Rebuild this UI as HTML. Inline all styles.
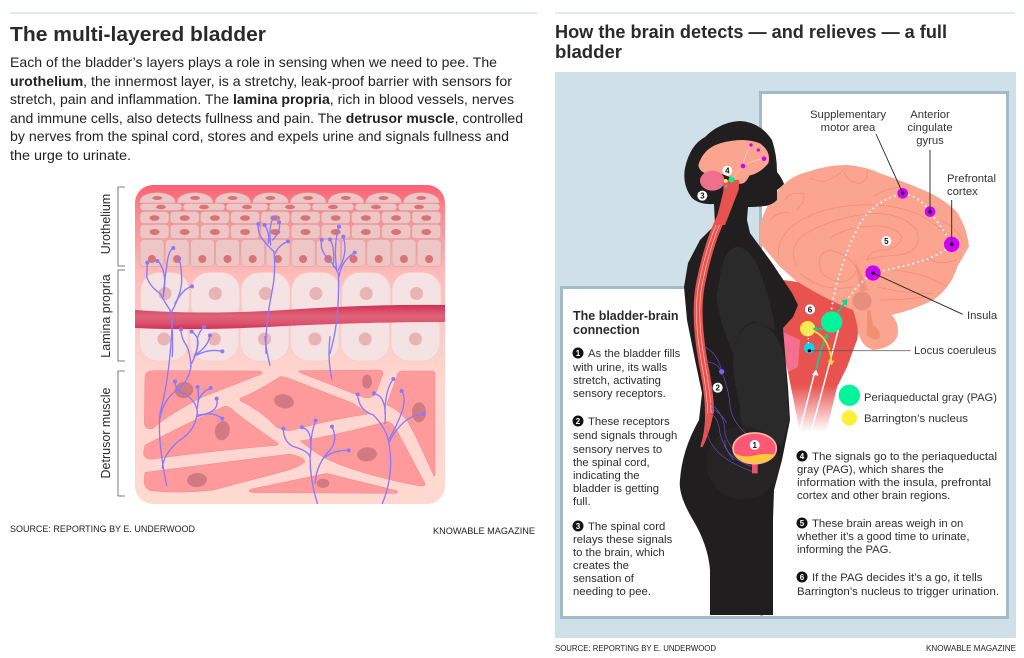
<!DOCTYPE html>
<html><head><meta charset="utf-8"><style>
html,body{margin:0;padding:0;background:#fff}
svg{display:block}
text{font-family:"Liberation Sans",sans-serif;fill:#2a2a2a}
.b{font-size:14px;fill:#222}
.s{font-size:11.3px;fill:#2c2c2c}
.l{font-size:11.3px;fill:#333}
.src{font-size:9px;fill:#222}
.w{font-size:8px;font-weight:bold;text-anchor:middle;fill:#fff}
.k{font-size:8px;font-weight:bold;text-anchor:middle;fill:#111}
.cell{fill:#efc6c6;stroke:#df9c9c;stroke-width:.6}
.nuc{fill:#d87474}
.ner{fill:none;stroke:#8a78ff;stroke-width:4;stroke-linecap:round}
.tip{fill:#8a78ff}
.mus{fill:#ff9a9c;stroke:#ee8a8c;stroke-width:1.5}
.mn{fill:#d27a82}
.sul{fill:none;stroke:#ea8f7b;stroke-width:2.2}
.vn{fill:none;stroke:#6650c0;stroke-width:2}
</style></head><body>
<svg width="1024" height="658" viewBox="0 0 1024 658" xmlns="http://www.w3.org/2000/svg">
<defs>
<linearGradient id="bg" x1="0" y1="185" x2="0" y2="504" gradientUnits="userSpaceOnUse">
<stop offset="0" stop-color="#ff6072"/><stop offset=".09" stop-color="#fb8a90"/><stop offset=".28" stop-color="#ffbcb9"/><stop offset=".6" stop-color="#ffd6cf"/><stop offset="1" stop-color="#ffd8d0"/></linearGradient>
<linearGradient id="ves" x1="0" y1="0" x2="0" y2="1"><stop offset="0" stop-color="#cf2f52"/><stop offset=".45" stop-color="#e0637a"/><stop offset=".75" stop-color="#dc5470"/><stop offset="1" stop-color="#d42c55"/></linearGradient>
<linearGradient id="red" x1="0" y1="385" x2="0" y2="432" gradientUnits="userSpaceOnUse"><stop offset="0" stop-color="#e8524f"/><stop offset="1" stop-color="#e8524f" stop-opacity="0"/></linearGradient>
<pattern id="p1" x="138.5" y="192" width="37.7" height="11" patternUnits="userSpaceOnUse"><path class="cell" d="M1 11Q1 1.5 18.8 .5Q36.5 1.5 37 11Z"/><ellipse class="nuc" cx="18.8" cy="6" rx="5" ry="2"/></pattern>
<pattern id="p2" x="139.5" y="203" width="43" height="8" patternUnits="userSpaceOnUse"><rect class="cell" x=".5" y=".5" width="42" height="7" rx="3.5"/><ellipse class="nuc" cx="21.5" cy="4" rx="5" ry="2.2"/></pattern>
<pattern id="p3" x="139.5" y="211" width="30.2" height="13" patternUnits="userSpaceOnUse"><rect class="cell" x=".5" y=".5" width="29" height="12" rx="3.5"/><ellipse class="nuc" cx="15" cy="7" rx="5" ry="2.8"/></pattern>
<pattern id="p4" x="139.5" y="224" width="30.2" height="15" patternUnits="userSpaceOnUse"><rect class="cell" x=".5" y=".5" width="29" height="14" rx="3.5"/><ellipse class="nuc" cx="15" cy="8" rx="5" ry="3"/></pattern>
<pattern id="p5" x="139.5" y="239" width="25.2" height="28" patternUnits="userSpaceOnUse"><rect class="cell" x=".5" y=".5" width="24" height="27" rx="4"/><circle class="nuc" cx="12.4" cy="20" r="4"/></pattern>
<pattern id="p6" x="140" y="272" width="50.3" height="44" patternUnits="userSpaceOnUse"><rect x=".5" y=".5" width="49" height="50" rx="18" fill="#f5e2e2" stroke="#f6c9c6" stroke-width=".6"/><circle cx="25" cy="21.500" r="6.500" fill="#e8b4b4"/></pattern>
<pattern id="p7" x="139" y="318" width="50.300" height="44" patternUnits="userSpaceOnUse"><rect x=".5" y="-8" width="49" height="51" rx="18" fill="#f5e2e2" stroke="#f6c9c6" stroke-width=".6"/><circle cx="25" cy="21" r="6.500" fill="#e8b4b4"/></pattern>
<clipPath id="pan"><rect x="135" y="185" width="310" height="319" rx="18"/></clipPath>
</defs>

<rect x="10" y="12.500" width="527" height="1" fill="#c6d9df"/>
<rect x="555" y="12.500" width="460" height="1" fill="#c6d9df"/>

<text x="10" y="41" font-size="20" font-weight="bold" fill="#1c1c1c" textLength="256" lengthAdjust="spacingAndGlyphs">The multi-layered bladder</text>
<text class="b" x="10" y="67" textLength="487" lengthAdjust="spacingAndGlyphs">Each of the bladder’s layers plays a role in sensing when we need to pee. The</text>
<text class="b" x="10" y="86" textLength="502" lengthAdjust="spacingAndGlyphs"><tspan font-weight="bold">urothelium</tspan>, the innermost layer, is a stretchy, leak-proof barrier with sensors for</text>
<text class="b" x="10" y="104" textLength="504" lengthAdjust="spacingAndGlyphs">stretch, pain and inflammation. The <tspan font-weight="bold">lamina propria</tspan>, rich in blood vessels, nerves</text>
<text class="b" x="10" y="123" textLength="513" lengthAdjust="spacingAndGlyphs">and immune cells, also detects fullness and pain. The <tspan font-weight="bold">detrusor muscle</tspan>, controlled</text>
<text class="b" x="10" y="141" textLength="499" lengthAdjust="spacingAndGlyphs">by nerves from the spinal cord, stores and expels urine and signals fullness and</text>
<text class="b" x="10" y="160" textLength="121" lengthAdjust="spacingAndGlyphs">the urge to urinate.</text>

<g fill="none" stroke="#555" stroke-width=".8">
<path d="M125 187H118V266H125"/><path d="M125 270H118V361H125"/><path d="M125 371H118V496H125"/>
</g>
<g fill="#333" text-anchor="middle">
<text transform="translate(110,224) rotate(-90)" style="font-size:12.500px">Urothelium</text>
<text transform="translate(110,316) rotate(-90)" style="font-size:12.500px">Lamina propria</text>
<text transform="translate(110,433) rotate(-90)" style="font-size:12.500px">Detrusor muscle</text>
</g>

<g clip-path="url(#pan)">
<rect x="135" y="185" width="310" height="319" fill="url(#bg)"/>
<rect x="138.500" y="192" width="302" height="11" fill="url(#p1)"/>
<rect x="139.500" y="203" width="301" height="8" fill="url(#p2)"/>
<rect x="139.500" y="211" width="302" height="13" fill="url(#p3)"/>
<rect x="139.500" y="224" width="302" height="15" fill="url(#p4)"/>
<rect x="139.500" y="239" width="302" height="28" fill="url(#p5)"/>
<rect x="140" y="272" width="301" height="44" fill="url(#p6)"/>
<rect x="139" y="318" width="302" height="44" fill="url(#p7)"/>
<path d="M135 310Q200 315 285 310Q370 304 445 305V322Q370 322 285 326Q200 331 135 328Z" fill="url(#ves)"/>
<g transform="translate(120,340) scale(.33333)">
<path class="mus" d="M75 110Q76 92 100 92L420 93Q435 97 420 104L250 170Q150 220 100 265Q75 272 73 250Z"/>
<path class="mus" d="M360 175Q420 150 480 110Q490 108 520 120L700 190Q730 210 745 222Q650 235 510 272Q490 272 470 262Q420 210 360 182Z"/>
<path class="mus" d="M540 92L780 90Q792 92 788 105L765 165Q745 180 720 168L545 100Q530 92 540 92Z"/>
<path class="mus" d="M835 97Q840 93 850 93L940 93Q946 95 945 105L945 405Q942 415 938 400Q880 270 860 240Q830 205 800 195Z"/>
<path class="mus" d="M75 315Q200 250 315 198Q330 198 350 220Q410 265 475 310Q475 318 460 317Q300 330 90 358Q65 355 72 330Z"/>
<path class="mus" d="M540 303Q650 285 800 245Q815 245 830 270L915 430Q918 440 900 438Q750 410 650 370Q600 350 570 325Z"/>
<path class="mus" d="M75 397L510 342Q550 350 555 365Q540 380 500 392L280 450Q180 462 90 452Q72 445 72 420Z"/>
<path class="mus" d="M390 448L620 400L830 452Q838 460 825 460L400 458Q380 455 390 448Z"/>
<ellipse class="mn" cx="192" cy="150" rx="28" ry="24" transform="rotate(-15 192 150)"/>
<ellipse class="mn" cx="307" cy="272" rx="22" ry="29" transform="rotate(12 307 272)"/>
<ellipse class="mn" cx="492" cy="184" rx="30" ry="21" transform="rotate(12 492 184)"/>
<ellipse class="mn" cx="741" cy="125" rx="15" ry="21"/>
<ellipse class="mn" cx="897" cy="217" rx="21" ry="30"/>
<ellipse class="mn" cx="741" cy="343" rx="30" ry="21" transform="rotate(-5 741 343)"/>
<ellipse class="mn" cx="231" cy="420" rx="30" ry="21" transform="rotate(-5 231 420)"/>
<ellipse class="mn" cx="609" cy="430" rx="19" ry="14"/>
<path class="ner" d="M157 -60Q150 110 120 220Q112 300 140 436"/>
<path class="ner" d="M213 70Q212 120 170 150Q130 180 120 235"/>
<path class="ner" d="M213 80Q210 30 195 10Q183 -10 183 -32"/>
<path class="ner" d="M215 70Q240 20 232 -5Q225 -20 215 -25"/>
<path class="ner" d="M222 50Q235 30 232 -5Q240 -30 252 -39"/>
<path class="ner" d="M225 45Q265 20 270 -14"/>
<path class="ner" d="M230 45Q270 25 307 34"/>
<path class="ner" d="M435 -10Q438 30 450 76"/>
<path class="ner" d="M630 -10Q622 60 636 117"/>
<path class="ner" d="M127 385Q130 340 180 300Q228 270 232 215"/>
<path class="ner" d="M232 215Q228 180 190 160Q165 150 165 124"/>
<path class="ner" d="M232 205Q238 170 233 141"/>
<path class="ner" d="M233 185Q245 155 272 144"/>
<path class="ner" d="M232 225Q300 220 290 176"/>
<path class="ner" d="M232 230Q275 210 307 236"/>
<path class="ner" d="M592 490Q570 420 570 350Q560 330 520 320Q490 305 490 266"/>
<path class="ner" d="M570 350Q578 290 562 272Q555 264 546 262"/>
<path class="ner" d="M572 330Q572 280 587 242"/>
<path class="ner" d="M585 430Q590 370 630 330Q655 300 636 260"/>
<path class="ner" d="M610 355Q640 330 686 331"/>
<path class="ner" d="M787 490Q825 400 805 300Q795 260 760 225Q715 210 713 163"/>
<path class="ner" d="M795 250Q800 190 780 170Q770 162 762 160"/>
<path class="ner" d="M795 220Q795 150 820 117"/>
<path class="ner" d="M805 300Q830 260 848 210Q858 170 845 153"/>
<path class="ner" d="M808 305Q850 225 910 222"/>
<g class="tip">
<circle cx="183" cy="-32" r="6"/><circle cx="215" cy="-25" r="6"/><circle cx="252" cy="-39" r="6"/><circle cx="270" cy="-14" r="6"/><circle cx="307" cy="34" r="6"/>
<circle cx="165" cy="124" r="6"/><circle cx="233" cy="141" r="6"/><circle cx="272" cy="144" r="6"/><circle cx="290" cy="176" r="6"/><circle cx="307" cy="236" r="6"/>
<circle cx="490" cy="266" r="6"/><circle cx="546" cy="262" r="6"/><circle cx="587" cy="242" r="6"/><circle cx="636" cy="260" r="6"/><circle cx="686" cy="331" r="6"/>
<circle cx="713" cy="163" r="6"/><circle cx="762" cy="160" r="6"/><circle cx="820" cy="117" r="6"/><circle cx="845" cy="153" r="6"/><circle cx="910" cy="222" r="6"/>
</g>
</g>
<g transform="translate(120,180) scale(.33333)">
<path class="ner" d="M157 530Q160 440 150 390Q130 360 120 340Q90 320 80 290L82 248"/>
<path class="ner" d="M130 350Q140 290 125 260Q118 245 112 243"/>
<path class="ner" d="M130 345Q135 290 140 260Q145 210 160 204"/>
<path class="ner" d="M155 395Q185 340 185 300Q185 260 177 237"/>
<path class="ner" d="M165 370Q190 325 216 319"/>
<path class="ner" d="M438 520Q435 440 455 340Q468 280 462 215Q445 200 425 175Q412 155 415 132"/>
<path class="ner" d="M445 190Q450 160 434 135"/>
<path class="ner" d="M452 195Q445 140 460 113"/>
<path class="ner" d="M458 180Q485 150 477 127"/>
<path class="ner" d="M463 225Q475 195 504 184"/>
<path class="ner" d="M630 520Q660 420 655 280Q640 250 615 225Q600 205 605 180"/>
<path class="ner" d="M640 260Q645 200 630 178"/>
<path class="ner" d="M650 270Q640 190 657 140"/>
<path class="ner" d="M655 270Q685 220 670 170"/>
<path class="ner" d="M657 290Q665 240 704 218"/>
<g class="tip"><circle cx="82" cy="248" r="6"/><circle cx="112" cy="243" r="6"/><circle cx="160" cy="204" r="6"/><circle cx="177" cy="237" r="6"/><circle cx="216" cy="319" r="6"/>
<circle cx="415" cy="132" r="6"/><circle cx="434" cy="135" r="6"/><circle cx="460" cy="113" r="6"/><circle cx="477" cy="127" r="6"/><circle cx="504" cy="184" r="6"/>
<circle cx="605" cy="180" r="6"/><circle cx="630" cy="178" r="6"/><circle cx="657" cy="140" r="6"/><circle cx="670" cy="170" r="6"/><circle cx="704" cy="218" r="6"/></g>
</g>
</g>

<text class="src" x="10" y="532" textLength="185" lengthAdjust="spacingAndGlyphs">SOURCE: REPORTING BY E. UNDERWOOD</text>
<text class="src" x="433" y="534" textLength="102" lengthAdjust="spacingAndGlyphs">KNOWABLE MAGAZINE</text>

<text x="555" y="38" font-size="18.500" font-weight="bold" fill="#1c1c1c" textLength="392" lengthAdjust="spacingAndGlyphs">How the brain detects — and relieves — a full</text>
<text x="555" y="58" font-size="18.500" font-weight="bold" fill="#1c1c1c" textLength="67" lengthAdjust="spacingAndGlyphs">bladder</text>

<rect x="555" y="72" width="461" height="566" fill="#cfe0e8"/>
<rect x="760.500" y="92.500" width="247" height="525" fill="#fff" stroke="#a3bac9" stroke-width="3"/>
<rect x="561.500" y="287.500" width="200" height="330" fill="#fff" stroke="#a3bac9" stroke-width="3"/>

<g transform="translate(760,160) scale(.33333)">
<path d="M0 190Q30 110 70 75Q100 45 145 35Q200 15 260 15Q320 20 360 40Q420 60 490 90Q550 115 590 155Q620 200 627 260Q610 290 592 320Q575 380 520 420Q460 450 395 465Q420 490 412 530Q395 565 340 570Q300 560 290 500L280 460Q180 410 110 365L60 320L0 250Z" fill="#fba590"/>
<path class="sul" d="M55 290Q50 240 95 200Q170 140 300 135Q400 130 480 165Q560 210 590 265"/>
<path class="sul" d="M110 320Q85 260 130 225Q220 170 340 160Q430 160 470 210Q490 270 420 285Q340 290 320 300Q330 270 380 270Q420 260 425 230Q400 190 310 200Q240 210 210 235"/>
<path class="sul" d="M180 320Q170 280 210 270Q280 290 290 330Q260 390 200 350Q180 340 180 320"/>
<path class="sul" d="M120 340Q190 400 280 380"/>
<path class="sul" d="M75 120Q85 95 130 100Q140 120 110 150"/>
<path class="sul" d="M150 55Q190 70 205 60Q230 50 250 30"/>
<path class="sul" d="M250 35Q270 70 300 70Q330 55 320 30"/>
<path class="sul" d="M340 110Q400 70 440 90"/>
<path class="sul" d="M30 180Q60 150 90 160"/>
<path class="sul" d="M540 180Q590 200 610 250"/>
<path class="sul" d="M500 290Q530 320 590 300"/>
<path class="sul" d="M400 330Q500 340 560 380"/>
<path class="sul" d="M350 380Q420 400 520 400"/>
<path class="sul" d="M360 420Q440 420 500 410"/>
<path d="M285 300L325 390L300 395Z" fill="#f0927e"/>
<path d="M330 450L340 495Q365 515 358 535Q340 545 320 525Q320 495 322 450Z" fill="#f09272"/>
</g>
<path d="M783 280L798 282Q827 300 853 310Q860 330 857 340L847 367L837 387L826 433H800L788 372L783 330Z" fill="url(#red)"/>
<circle cx="862" cy="301" r="9.500" fill="#e4897a" opacity=".85"/>
<path d="M783 332L800 340L798 367L788 372Q782 350 783 332Z" fill="#f47090"/>

<path d="M740 121Q760 122 772 140Q777 155 777 172Q782 178 784 184Q780 188 777 190L777 200Q772 205 765 206Q755 207 748 207L747 220L750 233L772 263L792 293L798 305L793 317L783 328L785 353L788 387L790 420L782 460L774 490L773 520V615H710V570Q708 545 693 520Q678 495 680 480Q682 450 699 420L702 393L695 360L687 320L684 287L688 263L700 240L715 225L714 204Q700 205 692 198Q682 185 685 168Q690 145 705 137Q720 122 740 121Z" fill="#201e1f"/>
<g transform="translate(675,220) scale(.33333)">
<path d="M135 170Q145 85 190 80Q240 90 270 200Q295 280 300 330L240 305Q190 310 175 400Q130 300 125 230Z" fill="#2a2a2a"/>
<path d="M175 420Q180 320 240 307Q310 320 330 420L342 600L320 680L250 640Q190 640 195 560Q175 480 175 420Z" fill="#2a2a2a"/>
<circle cx="204" cy="729" r="110" fill="#252324"/>
<path d="M177 -114L140 -10Q100 70 75 200Q60 290 85 430Q105 530 103 580" fill="none" stroke="#e8524f" stroke-width="27"/>
<path d="M90 575L116 575Q105 640 82 682L76 680Q92 630 90 575Z" fill="#e8524f"/>
<path d="M172 -114L135 -10Q95 70 70 200Q55 290 80 430Q98 530 98 580" fill="none" stroke="#fad6ce" stroke-width="1.800"/>
<path d="M182 -114L145 -10Q105 70 80 200Q65 290 90 430Q108 530 108 580" fill="none" stroke="#fad6ce" stroke-width="1.800"/>
<path class="vn" d="M85 378Q130 400 140 455Q165 520 165 560Q175 620 240 660"/>
<path class="vn" d="M90 425Q125 425 140 455"/>
<path class="vn" d="M105 550Q150 580 150 640Q160 680 190 700"/>
<path class="vn" d="M110 565Q140 580 155 610"/>
<path class="vn" d="M105 580Q130 590 135 640Q145 680 175 720"/>
<circle cx="140" cy="455" r="8" fill="#7b5ef2"/>
<circle cx="128" cy="503" r="15" fill="#fff"/>
</g>
<text class="k" x="717.700" y="390.500">2</text>

<g transform="translate(680,115) scale(.33333)">
<path d="M55 150Q70 100 120 85Q190 65 240 85Q275 110 265 145Q240 175 208 182Q195 212 175 205L160 190L120 175Q60 185 55 150Z" fill="#fba590"/>
<ellipse cx="97" cy="197" rx="37" ry="30" fill="#f0708c"/>
<path d="M130 195H178L176 225L135 330H105L130 230Z" fill="#e8524f"/>
<path d="M189 153L155 193M189 153Q195 115 213 90M189 153Q220 135 252 131" fill="none" stroke="#fde0d8" stroke-width="1.500"/>
<g fill="#d400ff"><circle cx="213" cy="90" r="5"/><circle cx="235" cy="105" r="5"/><circle cx="252" cy="131" r="7"/><circle cx="189" cy="153" r="7"/></g>
<circle cx="155" cy="193" r="9" fill="#00f59b"/><circle cx="137" cy="198" r="6" fill="#ffe94a"/><circle cx="138" cy="214" r="4" fill="#00d8f0"/>
<circle cx="142" cy="167" r="15" fill="#fff"/><circle cx="67" cy="242" r="15" fill="#fff"/>
</g>
<text class="k" x="727.300" y="173.500">4</text>
<text class="k" x="702.300" y="198.500">3</text>

<g transform="translate(760,160) scale(.33333)">
<path d="M215 445Q235 320 295 200Q335 125 428 100Q480 110 510 155Q545 200 575 253Q540 295 400 325L340 338Q295 370 265 415" fill="none" stroke="#fff" stroke-width="6" stroke-linecap="round" stroke-dasharray="0 15"/>
<g fill="#cc00ff"><circle cx="428" cy="100" r="16"/><circle cx="510" cy="155" r="16"/><circle cx="575" cy="253" r="23"/><circle cx="339" cy="339" r="23"/></g>
<circle cx="379" cy="243" r="15" fill="#fff"/>
<circle cx="150" cy="448" r="15" fill="#fff"/>
</g>
<g fill="none" stroke="#222" stroke-width=".9">
<path d="M876 134L903 193.700"/><path d="M930 150V211.700"/><path d="M951.700 200V244.300"/><path d="M873 273L962.700 314.300"/>
</g>
<g fill="#000"><circle cx="902.700" cy="193.300" r="1.700"/><circle cx="930" cy="211.700" r="1.700"/><circle cx="951.700" cy="244.300" r="1.700"/><circle cx="873" cy="273" r="1.700"/></g>
<text class="k" x="886.300" y="244">5</text>
<text class="k" x="810" y="312.300">6</text>

<g transform="translate(670,280) scale(.33333)">
<path d="M390 450L432 285M425 450L505 150" fill="none" stroke="#fff" stroke-width="4.500"/>
<path d="M426 285L438 268L446 287Z" fill="#fff"/>
<circle cx="485" cy="126" r="32" fill="#00f59b"/>
<circle cx="413" cy="146" r="23" fill="#ffe94a"/>
<circle cx="418" cy="204" r="16" fill="#00d8f0"/>
<path d="M415 140V190" fill="none" stroke="#fff" stroke-width="4.500" stroke-linecap="round" stroke-dasharray="0 12"/>
<path d="M500 100L525 68" stroke="#00d98c" stroke-width="5" fill="none"/><path d="M514 62L532 58L530 78Z" fill="#00d98c"/>
<path d="M458 148L438 147" stroke="#00d98c" stroke-width="5" fill="none"/><path d="M440 138L428 147L440 156Z" fill="#00d98c"/>
<path d="M440 265Q450 210 468 170" stroke="#00d98c" stroke-width="5" fill="none"/><path d="M460 172L472 158L477 176Z" fill="#00d98c"/>
<path d="M430 152Q480 175 484 245" stroke="#ffd93a" stroke-width="5" fill="none"/><path d="M473 242L484 256L493 242Z" fill="#ffd93a"/>
<path d="M418 212H722" stroke="#555" stroke-width="3" opacity=".75"/>
<circle cx="418" cy="212" r="5" fill="#000"/>
<circle cx="538" cy="346" r="32" fill="#00f59b"/>
<circle cx="538" cy="414" r="23" fill="#ffee3a"/>
</g>

<g transform="translate(660,420) scale(.33333)">
<path class="vn" d="M140 30Q150 110 278 155M195 60Q190 110 278 140"/>
<rect x="276" y="125" width="17" height="35" fill="#f0506e"/>
<ellipse cx="284" cy="85" rx="65" ry="46" fill="#ff5775" stroke="#ffb4a2" stroke-width="5"/>
<path d="M222 100Q255 115 290 105Q320 98 346 105Q330 128 284 129Q240 128 222 100Z" fill="#ffc838"/>
<circle cx="284" cy="75" r="15" fill="#fff"/>
</g>
<text class="k" x="754.700" y="448">1</text>

<g text-anchor="middle">
<text class="l" x="848" y="118">Supplementary</text><text class="l" x="848" y="131">motor area</text>
<text class="l" x="930" y="118">Anterior</text><text class="l" x="930" y="131">cingulate</text><text class="l" x="930" y="144">gyrus</text>
</g>
<text class="l" x="947" y="182">Prefrontal</text><text class="l" x="947" y="195">cortex</text>
<text class="l" x="967" y="319">Insula</text>
<text class="l" x="914" y="354">Locus coeruleus</text>
<text class="l" x="864" y="401" textLength="133" lengthAdjust="spacingAndGlyphs">Periaqueductal gray (PAG)</text>
<text class="l" x="864" y="422" textLength="104" lengthAdjust="spacingAndGlyphs">Barrington’s nucleus</text>

<text x="573" y="320" font-size="12.500" font-weight="bold" fill="#1c1c1c">The bladder-brain</text>
<text x="573" y="334" font-size="12.500" font-weight="bold" fill="#1c1c1c">connection</text>
<circle cx="578" cy="353" r="5.500" fill="#111"/><text class="w" x="578" y="356">1</text>
<text class="s" x="588" y="357">As the bladder fills</text>
<text class="s" x="573" y="371">with urine, its walls</text>
<text class="s" x="573" y="384">stretch, activating</text>
<text class="s" x="573" y="397">sensory receptors.</text>
<circle cx="578" cy="421" r="5.500" fill="#111"/><text class="w" x="578" y="424">2</text>
<text class="s" x="588" y="425">These receptors</text>
<text class="s" x="573" y="439">send signals through</text>
<text class="s" x="573" y="453">sensory nerves to</text>
<text class="s" x="573" y="466">the spinal cord,</text>
<text class="s" x="573" y="479">indicating the</text>
<text class="s" x="573" y="492">bladder is getting</text>
<text class="s" x="573" y="505">full.</text>
<circle cx="578" cy="526" r="5.500" fill="#111"/><text class="w" x="578" y="529">3</text>
<text class="s" x="588" y="530">The spinal cord</text>
<text class="s" x="573" y="543">relays these signals</text>
<text class="s" x="573" y="556">to the brain, which</text>
<text class="s" x="573" y="569">creates the</text>
<text class="s" x="573" y="582">sensation of</text>
<text class="s" x="573" y="595">needing to pee.</text>

<circle cx="802" cy="456" r="5.500" fill="#111"/><text class="w" x="802" y="459">4</text>
<text class="s" x="812" y="460" textLength="185" lengthAdjust="spacingAndGlyphs">The signals go to the periaqueductal</text>
<text class="s" x="797" y="473">gray (PAG), which shares the</text>
<text class="s" x="797" y="486" textLength="194" lengthAdjust="spacingAndGlyphs">information with the insula, prefrontal</text>
<text class="s" x="797" y="499">cortex and other brain regions.</text>
<circle cx="802" cy="523" r="5.500" fill="#111"/><text class="w" x="802" y="526">5</text>
<text class="s" x="812" y="527">These brain areas weigh in on</text>
<text class="s" x="797" y="540">whether it’s a good time to urinate,</text>
<text class="s" x="797" y="553">informing the PAG.</text>
<circle cx="802" cy="577" r="5.500" fill="#111"/><text class="w" x="802" y="580">6</text>
<text class="s" x="812" y="581">If the PAG decides it’s a go, it tells</text>
<text class="s" x="797" y="595" textLength="202" lengthAdjust="spacingAndGlyphs">Barrington’s nucleus to trigger urination.</text>

<text class="src" style="font-size:8.500px" x="555" y="651" textLength="161" lengthAdjust="spacingAndGlyphs">SOURCE: REPORTING BY E. UNDERWOOD</text>
<text class="src" style="font-size:8.500px" x="926" y="651" textLength="90" lengthAdjust="spacingAndGlyphs">KNOWABLE MAGAZINE</text>
</svg>
</body></html>
